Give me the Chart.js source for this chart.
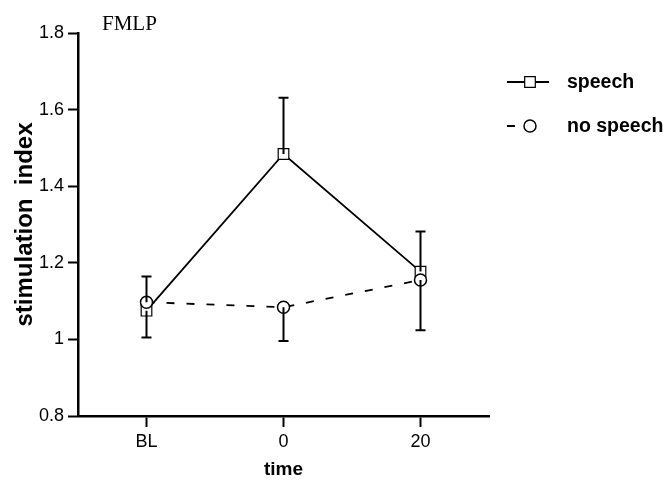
<!DOCTYPE html>
<html>
<head>
<meta charset="utf-8">
<script src="https://cdn.jsdelivr.net/npm/chart.js@4/dist/chart.umd.min.js"></script>
<style>
  body { margin: 0; background: #fff; }
  #wrap { width: 668px; height: 480px; }
</style>
</head>
<body>
<div id="wrap"><canvas id="myChart" width="668" height="480"></canvas></div>
<script>
// data
const times = ['BL', '0', '20']
const speech = [1.075, 1.484, 1.177]
const speechErrUp = [0, 0.147, 0.105]
const speechErrDown = [0.07, 0, 0]
const noSpeech = [1.097, 1.084, 1.155]
const noSpeechErrUp = [0.067, 0, 0]
const noSpeechErrDown = [0, 0.088, 0.131]
const yTicks = [0.8, 1, 1.2, 1.4, 1.6, 1.8]

const ctx = document.getElementById('myChart');
const sans = '"Liberation Sans", Arial, sans-serif'

// error bars, drawn after the lines so they cross the markers
const errorBars = {
  id: 'errorBars',
  afterDatasetsDraw(chart) {
    const c = chart.ctx
    const y = chart.scales.y
    c.save()
    c.strokeStyle = '#000'
    c.lineWidth = 2
    chart.data.datasets.forEach((ds, i) => {
      const meta = chart.getDatasetMeta(i)
      meta.data.forEach((pt, j) => {
        const v = ds.data[j]
        const ends = []
        if (ds.errUp[j]) ends.push(y.getPixelForValue(v + ds.errUp[j]))
        if (ds.errDown[j]) ends.push(y.getPixelForValue(v - ds.errDown[j]))
        ends.forEach(e => {
          c.beginPath()
          c.moveTo(pt.x, pt.y)
          c.lineTo(pt.x, e)
          c.moveTo(pt.x - 5, e)
          c.lineTo(pt.x + 5, e)
          c.stroke()
        })
      })
    })
    c.restore()
  }
}

// legend and panel label
const extras = {
  id: 'extras',
  afterDraw(chart) {
    const c = chart.ctx
    c.save()
    c.fillStyle = '#000'
    c.font = '21px "Liberation Serif", "Times New Roman", serif'
    c.textBaseline = 'alphabetic'
    c.fillText('FMLP', 102, 30)

    const rows = [82, 126]
    chart.data.datasets.forEach((ds, i) => {
      const yy = rows[i]
      c.strokeStyle = '#000'
      c.lineWidth = ds.borderWidth
      c.setLineDash(ds.borderDash || [])
      c.beginPath()
      c.moveTo(507, yy)
      c.lineTo(ds.borderDash ? 536 : 549, yy)
      c.stroke()
      c.setLineDash([])
      c.fillStyle = '#fff'
      c.lineWidth = ds.pointBorderWidth
      Chart.helpers.drawPoint(c, {
        pointStyle: ds.pointStyle, radius: ds.pointRadius, borderWidth: ds.pointBorderWidth
      }, 530, yy)
      c.fillStyle = '#000'
      c.font = 'bold 19.5px ' + sans
      c.textBaseline = 'middle'
      c.fillText(ds.label, 567, yy + 1)
    })
    c.restore()
  }
}

new Chart(ctx, {
  type: 'line',
  data: {
    labels: times,
    datasets: [
      {
        label: 'speech',
        data: speech,
        errUp: speechErrUp,
        errDown: speechErrDown,
        borderColor: '#000',
        borderWidth: 1.8,
        pointStyle: 'rect',
        pointRadius: 7.5,
        pointBorderWidth: 1.2,
        pointBackgroundColor: '#fff',
        pointBorderColor: '#000',
        order: 1
      },
      {
        label: 'no speech',
        data: noSpeech,
        errUp: noSpeechErrUp,
        errDown: noSpeechErrDown,
        borderColor: '#000',
        borderWidth: 1.8,
        borderDash: [8, 12],
        pointStyle: 'circle',
        pointRadius: 6,
        pointBorderWidth: 1.5,
        pointBackgroundColor: '#fff',
        pointBorderColor: '#000',
        order: 0
      }
    ]
  },
  options: {
    responsive: false,
    animation: false,
    layout: { padding: { top: 33, right: 179, left: 0, bottom: 0 } },
    plugins: { legend: { display: false }, tooltip: { enabled: false } },
    scales: {
      x: {
        offset: true,
        grid: { offset: false, drawOnChartArea: false, tickLength: 11, tickWidth: 2, tickColor: '#000' },
        border: { color: '#000', width: 2.5 },
        ticks: { color: '#000', font: { family: sans, size: 18 }, padding: 4 },
        title: { display: true, text: 'time', color: '#000', font: { family: sans, size: 19, weight: 'bold', lineHeight: 1 }, padding: { bottom: 1 } },
        afterFit: s => { s.height = 64 }
      },
      y: {
        min: 0.8,
        max: 1.8,
        afterBuildTicks: s => { s.ticks = yTicks.map(v => ({ value: v })) },
        grid: { drawOnChartArea: false, tickLength: 10, tickWidth: 2, tickColor: '#000' },
        border: { color: '#000', width: 2.5 },
        ticks: { color: '#000', font: { family: sans, size: 18 }, padding: 4, callback: v => String(v) },
        title: { display: true, text: 'stimulation  index', color: '#000', font: { family: sans, size: 24, weight: 'bold', lineHeight: 1 }, padding: { top: 13 } },
        afterFit: s => { s.width = 78 }
      }
    }
  },
  plugins: [errorBars, extras]
});
</script>
</body>
</html>
